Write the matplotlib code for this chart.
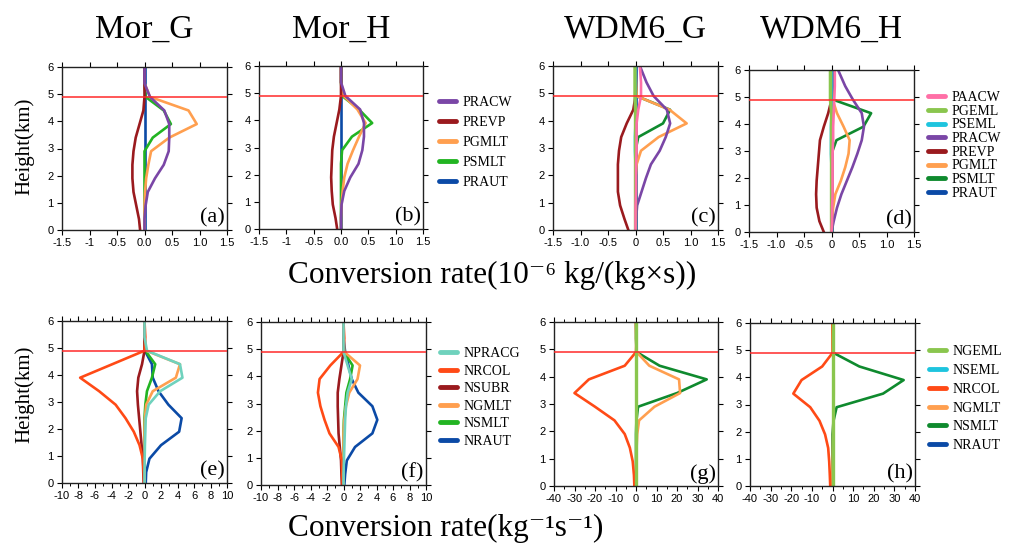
import numpy as np
import matplotlib
matplotlib.use("Agg")
import matplotlib.pyplot as plt
from matplotlib.ticker import MultipleLocator

plt.rcParams['font.family'] = ['Liberation Serif', 'DejaVu Serif']
plt.rcParams['axes.unicode_minus'] = False

# model levels (km) and melting level
heights = [0.0, 0.4, 0.9, 1.4, 1.9, 2.4, 2.9, 3.4, 3.9, 4.4, 4.9, 5.4, 6.0]
melt_level = 4.9

# mass conversion rates, 1e-6 kg/(kg s)
mor_g_q = {
    "PRACW": [0.0, 0.0, 0.02, 0.06, 0.19, 0.35, 0.44, 0.45, 0.45, 0.36, 0.1, 0.0, 0.0],
    "PREVP": [-0.08, -0.1, -0.15, -0.2, -0.22, -0.22, -0.2, -0.16, -0.09, -0.02, 0.0, 0.0, 0.0],
    "PGMLT": [0.0, 0.0, 0.0, 0.01, 0.03, 0.07, 0.12, 0.45, 0.95, 0.8, 0.1, 0.0, 0.0],
    "PSMLT": [0.0, 0.0, 0.0, 0.0, 0.0, 0.0, 0.0, 0.15, 0.48, 0.35, 0.02, 0.0, 0.0],
    "PRAUT": [0.0, 0.0, 0.0, 0.0, 0.0, 0.0, 0.0, 0.0, 0.0, 0.0, 0.0, 0.0, 0.0],
}
mor_h_q = {
    "PRACW": [0.0, 0.0, 0.01, 0.06, 0.17, 0.32, 0.39, 0.42, 0.42, 0.35, 0.08, 0.0, 0.0],
    "PREVP": [-0.07, -0.1, -0.15, -0.17, -0.18, -0.17, -0.16, -0.13, -0.08, -0.03, 0.0, 0.0, 0.0],
    "PGMLT": [0.0, 0.0, 0.01, 0.03, 0.06, 0.12, 0.22, 0.33, 0.45, 0.3, 0.05, 0.0, 0.0],
    "PSMLT": [0.0, 0.0, 0.0, 0.0, 0.0, 0.0, 0.02, 0.2, 0.57, 0.33, 0.02, 0.0, 0.0],
    "PRAUT": [0.0, 0.0, 0.0, 0.0, 0.0, 0.0, 0.0, 0.0, 0.0, 0.0, 0.0, 0.0, 0.0],
}
wdm_g_q = {
    "PAACW": [0.0, 0.0, 0.0, 0.01, 0.01, 0.01, 0.02, 0.02, 0.02, 0.05, 0.1, 0.1, 0.08],
    "PGEML": [0.0, 0.0, 0.0, 0.0, 0.0, 0.0, 0.0, 0.0, 0.0, 0.0, -0.01, -0.01, -0.01],
    "PSEML": [0.0, 0.0, 0.0, 0.0, 0.0, 0.0, -0.01, -0.01, 0.0, 0.0, 0.0, 0.0, 0.0],
    "PRACW": [0.0, 0.01, 0.03, 0.11, 0.19, 0.28, 0.44, 0.55, 0.63, 0.57, 0.33, 0.2, 0.08],
    "PREVP": [-0.13, -0.2, -0.28, -0.32, -0.32, -0.32, -0.3, -0.26, -0.16, -0.04, 0.0, 0.0, 0.0],
    "PGMLT": [0.0, 0.0, 0.0, 0.0, 0.0, 0.02, 0.1, 0.42, 0.93, 0.62, 0.02, 0.01, 0.0],
    "PSMLT": [0.0, 0.0, 0.0, 0.0, 0.0, 0.0, 0.0, 0.05, 0.5, 0.63, 0.02, 0.0, 0.0],
    "PRAUT": [0.0, 0.0, 0.0, 0.0, 0.0, 0.0, 0.0, 0.0, 0.0, 0.0, 0.0, 0.0, 0.0],
}
wdm_h_q = {
    "PAACW": [0.0, 0.01, 0.01, 0.02, 0.02, 0.02, 0.02, 0.03, 0.03, 0.04, 0.05, 0.06, 0.06],
    "PGEML": [0.0, 0.0, 0.0, 0.0, 0.0, 0.0, 0.0, 0.0, 0.0, 0.0, -0.02, -0.02, -0.02],
    "PSEML": [0.0, 0.0, 0.0, 0.0, 0.0, 0.0, -0.01, -0.01, -0.01, 0.0, 0.0, 0.0, 0.0],
    "PRACW": [0.0, 0.04, 0.1, 0.18, 0.28, 0.38, 0.47, 0.55, 0.59, 0.55, 0.39, 0.25, 0.12],
    "PREVP": [-0.14, -0.22, -0.27, -0.28, -0.27, -0.25, -0.23, -0.21, -0.14, -0.06, 0.0, 0.0, 0.0],
    "PGMLT": [0.0, 0.01, 0.03, 0.07, 0.17, 0.25, 0.31, 0.33, 0.22, 0.1, 0.02, 0.0, 0.0],
    "PSMLT": [0.0, 0.0, 0.0, 0.0, 0.0, 0.0, 0.0, 0.09, 0.58, 0.72, 0.03, 0.0, 0.0],
    "PRAUT": [0.0, 0.0, 0.0, 0.0, 0.0, 0.0, 0.0, 0.0, 0.0, 0.0, 0.0, 0.0, 0.0],
}

# number conversion rates, 1/(kg s)
mor_g_n = {
    "NPRACG": [0.0, 0.0, 0.02, 0.05, 0.1, 0.15, 0.5, 1.9, 4.6, 4.3, 0.3, 0.0, 0.0],
    "NRCOL": [-0.05, -0.1, -0.2, -0.6, -1.3, -2.3, -3.5, -5.5, -7.8, -3.9, 0.0, 0.1, 0.0],
    "NSUBR": [-0.1, -0.15, -0.2, -0.35, -0.5, -0.65, -0.8, -0.9, -0.75, -0.3, 0.0, 0.0, 0.0],
    "NGMLT": [0.0, 0.0, 0.0, 0.0, 0.0, 0.05, 0.2, 1.0, 3.8, 4.3, 0.2, 0.0, 0.0],
    "NSMLT": [0.0, 0.0, 0.0, 0.0, 0.0, 0.0, 0.1, 0.3, 0.9, 1.3, 0.1, 0.0, 0.0],
    "NRAUT": [0.15, 0.2, 0.6, 2.0, 4.2, 4.5, 2.9, 1.7, 1.0, 0.9, 0.05, 0.0, 0.0],
}
mor_h_n = {
    "NPRACG": [0.0, 0.0, 0.05, 0.1, 0.15, 0.2, 0.3, 0.5, 1.0, 0.5, 0.0, 0.0, 0.0],
    "NRCOL": [-0.1, -0.15, -0.2, -0.6, -1.7, -2.3, -2.8, -3.1, -2.9, -1.6, 0.0, 0.1, 0.0],
    "NSUBR": [-0.2, -0.25, -0.3, -0.45, -0.6, -0.65, -0.7, -0.7, -0.5, -0.25, 0.0, 0.0, 0.0],
    "NGMLT": [0.0, 0.0, 0.0, 0.0, 0.0, 0.1, 0.3, 0.7, 1.7, 2.0, 0.1, 0.0, 0.0],
    "NSMLT": [0.0, 0.0, 0.0, 0.0, 0.0, 0.05, 0.2, 0.35, 0.8, 1.1, 0.05, 0.0, 0.0],
    "NRAUT": [0.1, 0.2, 0.4, 1.4, 3.5, 4.1, 3.5, 1.8, 1.0, 0.6, 0.2, 0.0, 0.0],
}
wdm_g_n = {
    "NGEML": [0.0, 0.0, 0.0, 0.0, 0.0, 0.0, 0.0, 0.0, 0.0, 0.0, 0.0, 0.0, 0.0],
    "NSEML": [0.0, 0.0, 0.0, 0.0, 0.0, 0.0, 0.0, 0.0, 0.0, 0.0, 0.0, 0.0, 0.0],
    "NRCOL": [-0.8, -1.0, -1.6, -3.0, -5.5, -10.5, -20.0, -30.0, -23.0, -5.5, 0.0, 0.2, 0.0],
    "NGMLT": [0.2, 0.2, 0.2, 0.3, 0.6, 1.5, 9.0, 21.5, 21.0, 6.5, 0.3, 0.0, 0.0],
    "NSMLT": [0.0, 0.0, 0.0, 0.0, 0.0, 0.2, 1.0, 20.0, 34.5, 11.5, 0.3, 0.0, 0.0],
    "NRAUT": [0.0, 0.0, 0.0, 0.0, 0.0, 0.0, 0.0, 0.0, 0.0, 0.0, 0.0, 0.0, 0.0],
}
wdm_h_n = {
    "NGEML": [0.0, 0.0, 0.0, 0.0, 0.0, 0.0, 0.0, 0.0, 0.0, 0.0, 0.0, 0.0, 0.0],
    "NSEML": [0.0, 0.0, 0.0, 0.0, 0.0, 0.0, 0.0, 0.0, 0.0, 0.0, 0.0, 0.0, 0.0],
    "NRCOL": [-1.1, -1.3, -1.6, -2.1, -3.6, -6.3, -10.8, -19.0, -15.0, -5.0, 0.0, 0.2, 0.0],
    "NGMLT": [0.0, 0.0, 0.1, 0.2, 0.3, 0.4, 0.5, 0.6, 0.6, 0.5, 0.3, 0.0, 0.0],
    "NSMLT": [0.0, 0.0, 0.0, 0.0, 0.0, 0.5, 2.0, 24.5, 34.5, 13.0, 0.5, 0.0, 0.0],
    "NRAUT": [0.0, 0.0, 0.0, 0.0, 0.0, 0.0, 0.0, 0.0, 0.0, 0.0, 0.0, 0.0, 0.0],
}

titles = ["Mor_G", "Mor_H", "WDM6_G", "WDM6_H"]
letters = ["(a)", "(b)", "(c)", "(d)", "(e)", "(f)", "(g)", "(h)"]

mor_q_order = ["PRACW", "PREVP", "PGMLT", "PSMLT", "PRAUT"]
wdm_q_order = ["PAACW", "PGEML", "PSEML", "PRACW", "PREVP", "PGMLT", "PSMLT", "PRAUT"]
mor_n_order = ["NPRACG", "NRCOL", "NSUBR", "NGMLT", "NSMLT", "NRAUT"]
wdm_n_order = ["NGEML", "NSEML", "NRCOL", "NGMLT", "NSMLT", "NRAUT"]

colors = {
    "PRACW": "#7a46a6", "PREVP": "#9a1a1e", "PGMLT": "#ff9f4f", "PSMLT": "#22b422",
    "PRAUT": "#0b4aa6", "PAACW": "#ff6fa6", "PGEML": "#8ac64e", "PSEML": "#1ec4de",
    "NPRACG": "#6fd2bd", "NRCOL": "#ff4a16", "NSUBR": "#9a1a1e", "NGMLT": "#ff9f4f",
    "NSMLT": "#22b422", "NRAUT": "#0b4aa6", "NGEML": "#8ac64e", "NSEML": "#1ec4de",
}
wdm_colors = dict(colors, PSMLT="#0f8a2e", NSMLT="#0f8a2e")

# axes rectangles in pixels: left, top, right, bottom
W, H = 1011, 550
boxes = [(62, 67, 227, 230), (259, 66, 423, 229), (553, 66, 718, 230), (749, 70, 914, 232),
         (62, 321, 227, 483), (261, 322, 426, 485), (554, 322, 718, 486), (750, 323, 915, 486)]

panels = [
    (mor_g_q, mor_q_order, colors, "q_mor"), (mor_h_q, mor_q_order, colors, "q_mor"),
    (wdm_g_q, wdm_q_order, wdm_colors, "q_wdm"), (wdm_h_q, wdm_q_order, wdm_colors, "q_wdm"),
    (mor_g_n, mor_n_order, colors, "n_mor"), (mor_h_n, mor_n_order, colors, "n_mor"),
    (wdm_g_n, wdm_n_order, wdm_colors, "n_wdm"), (wdm_h_n, wdm_n_order, wdm_colors, "n_wdm"),
]
xaxes = {
    "q_mor": (1.5, 0.5, None, ["-1.5", "-1", "-0.5", "0.0", "0.5", "1.0", "1.5"]),
    "q_wdm": (1.5, 0.5, None, ["-1.5", "-1.0", "-0.5", "0", "0.5", "1.0", "1.5"]),
    "n_mor": (10, 2, 1, ["-10", "-8", "-6", "-4", "-2", "0", "2", "4", "6", "8", "10"]),
    "n_wdm": (40, 10, 5, ["-40", "-30", "-20", "-10", "0", "10", "20", "30", "40"]),
}
legend_pos = {1: (439, 96, 0.5), 3: (928, 91, 0.05), 5: (440, 347, 0.33), 7: (929, 345, 0.42)}

fig = plt.figure(figsize=(W / 100, H / 100), dpi=100)

for i, (data, order, cols, kind) in enumerate(panels):
    l, t, r, b = boxes[i]
    ax = fig.add_axes([l / W, 1 - b / H, (r - l) / W, (b - t) / H])
    lines = {}
    for name in reversed(order):
        lw = 2.4 if name in ("NGEML", "PGEML") else 1.9
        lines[name], = ax.plot(data[name], heights, color=cols[name], lw=lw, label=name)
    ax.axhline(melt_level, color="#ff2a2a", lw=1.1, zorder=5)

    lim, major, minor, xlabels = xaxes[kind]
    ax.set_xticks(np.linspace(-lim, lim, len(xlabels)))
    ax.set_xticklabels(xlabels, fontfamily="Liberation Sans", fontsize=8)
    if minor:
        ax.xaxis.set_minor_locator(MultipleLocator(minor))
    ax.set_yticks(range(7))
    ax.set_yticklabels([str(v) for v in range(7)], fontfamily="Liberation Sans", fontsize=8)
    ax.set_xlim(-lim, lim)
    ax.set_ylim(0, 6)
    ax.tick_params(which="major", direction="out", top=True, right=True, length=3.5, width=0.8, pad=2.5)
    ax.tick_params(which="minor", direction="out", top=True, right=True, length=2, width=0.7)
    for sp in ax.spines.values():
        sp.set_linewidth(1.0)
        sp.set_color("#222222")

    ax.text(0.985, 0.015, letters[i], transform=ax.transAxes, ha="right", va="bottom", fontsize=16)

    if i < 4:
        fig.text((l + r) / 2 / W, 1 - 38 / H, titles[i], ha="center", va="baseline", fontsize=24)

    if i in legend_pos:
        lx, ly, sp_ = legend_pos[i]
        leg = ax.legend([lines[n] for n in order], order, loc="upper left",
                        bbox_to_anchor=(lx / W, 1 - ly / H), bbox_transform=fig.transFigure,
                        frameon=False, fontsize=10, handlelength=1.25, handletextpad=0.45,
                        labelspacing=sp_, borderpad=0, borderaxespad=0)
        for h in leg.legend_handles:
            h.set_linewidth(3.5)
            h.set_solid_capstyle("round")

fig.text(25 / W, 1 - 146 / H, "Height(km)", rotation=90, ha="center", va="center", fontsize=15)
fig.text(25 / W, 1 - 394 / H, "Height(km)", rotation=90, ha="center", va="center", fontsize=15)
fig.text(288 / W, 1 - 283 / H, "Conversion rate(10\u207b\u2076 kg/(kg\u00d7s))", ha="left", va="baseline", fontsize=22.5)
fig.text(288 / W, 1 - 536 / H, "Conversion rate(kg\u207b\u00b9s\u207b\u00b9)", ha="left", va="baseline", fontsize=22.5)

fig.savefig("out.png", dpi=100)
